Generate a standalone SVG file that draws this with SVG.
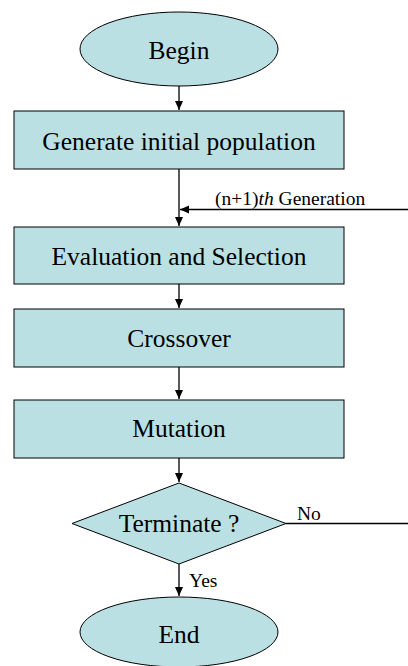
<svg xmlns="http://www.w3.org/2000/svg" width="408" height="666" viewBox="0 0 408 666">
<defs>
<style>
.shape{fill:#BBE0E3;stroke:#000;stroke-width:1}
.big{font-family:'Liberation Serif',serif;font-size:25.5px;fill:#000;text-anchor:middle}
.small{font-family:'Liberation Serif',serif;font-size:19.5px;fill:#000}
.conn{fill:none;stroke:#000;stroke-width:1.3}
</style>
<marker id="arr" markerWidth="10" markerHeight="10" refX="9" refY="5" orient="auto" markerUnits="userSpaceOnUse">
<path d="M0,1 L9,5 L0,9 Z" fill="#000"/>
</marker>
</defs>
<rect width="408" height="666" fill="#fff"/>
<g id="connectors">
<line class="conn" x1="179" y1="86" x2="179" y2="110" marker-end="url(#arr)"/>
<line class="conn" x1="179" y1="169" x2="179" y2="226" marker-end="url(#arr)"/>
<path class="conn" d="M409,523 L409,209.5 L180,209.5" marker-end="url(#arr)"/>
<line class="conn" x1="179" y1="284" x2="179" y2="308" marker-end="url(#arr)"/>
<line class="conn" x1="179" y1="367" x2="179" y2="399" marker-end="url(#arr)"/>
<line class="conn" x1="179" y1="458" x2="179" y2="482" marker-end="url(#arr)"/>
<line class="conn" x1="286" y1="523.5" x2="409" y2="523.5"/>
<line class="conn" x1="179" y1="564" x2="179" y2="596" marker-end="url(#arr)"/>
<text class="small" font-family="Liberation Serif, serif" x="215" y="205" font-size="20px">(n+1)<tspan font-style="italic">th</tspan> Generation</text>
<text class="small" font-family="Liberation Serif, serif" x="297" y="520">No</text>
<text class="small" font-family="Liberation Serif, serif" x="189" y="587">Yes</text>
</g>
<g id="begin">
<ellipse class="shape" cx="179" cy="49" rx="99" ry="37"/>
<text class="big" font-family="Liberation Serif, serif" x="179" y="59">Begin</text>
</g>
<g id="generate">
<rect class="shape" x="14" y="111" width="330" height="58"/>
<text class="big" font-family="Liberation Serif, serif" x="179" y="150">Generate initial population</text>
</g>
<g id="evaluation">
<rect class="shape" x="14" y="227" width="330" height="57"/>
<text class="big" font-family="Liberation Serif, serif" x="179" y="265">Evaluation and Selection</text>
</g>
<g id="crossover">
<rect class="shape" x="14" y="309" width="330" height="58"/>
<text class="big" font-family="Liberation Serif, serif" x="179" y="347">Crossover</text>
</g>
<g id="mutation">
<rect class="shape" x="14" y="400" width="330" height="58"/>
<text class="big" font-family="Liberation Serif, serif" x="179" y="437">Mutation</text>
</g>
<g id="terminate">
<polygon class="shape" points="179,483 286,523.5 179,564 72,523.5"/>
<text class="big" font-family="Liberation Serif, serif" x="179" y="532">Terminate ?</text>
</g>
<g id="end">
<ellipse class="shape" cx="179" cy="632" rx="99" ry="35"/>
<text class="big" font-family="Liberation Serif, serif" x="179" y="643">End</text>
</g>
</svg>
